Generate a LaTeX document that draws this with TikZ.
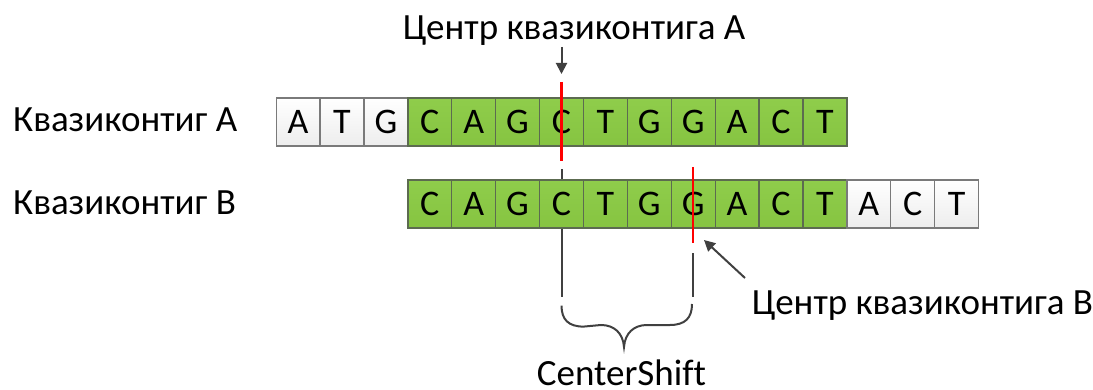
\documentclass[tikz,border=0pt]{standalone}
\usepackage{fontspec}
\setmainfont[Ligatures=NoCommon]{Carlito}
\usetikzlibrary{arrows.meta}
\definecolor{cellgreen}{HTML}{8FCD4B}
\definecolor{cellgreenlow}{HTML}{86C441}
\definecolor{greenedge}{HTML}{5C6B50}
\definecolor{whiteedge}{HTML}{7A7A7A}
\definecolor{lowgray}{HTML}{EDEDED}
\definecolor{darkline}{HTML}{404040}
\definecolor{centerred}{HTML}{FF0000}
\begin{document}
\begin{tikzpicture}[x=1pt,y=-1pt,
  base/.style={font=\fontsize{37}{41}\selectfont},
  cell/.style={font=\fontsize{36}{40}\selectfont, minimum width=43.9pt, minimum height=48pt,
    inner sep=0pt, anchor=north west, line width=1.3pt},
  gcell/.style={cell, draw=greenedge, top color=cellgreen, bottom color=cellgreenlow},
  wcell/.style={cell, draw=whiteedge, top color=white, bottom color=lowgray},
  label/.style={base, inner sep=0pt},
  redline/.style={draw=centerred, line width=2.2pt},
  grayline/.style={draw=darkline, line width=2pt},
  pointer/.style={draw=darkline, line width=2pt, -{Triangle[length=11pt,width=11pt]}}]
\useasboundingbox (0,0) rectangle (1093,390);

% sequence rows: cell width 43.9, row A starts at x=275.5, row B is shifted by three cells
\def\cw{43.9}
\foreach \l [count=\i] in {A,T,G,C,A,G,C,T,G,G,A,C,T}{
  \ifnum\i<4
    \node[wcell] (a\i) at ({275.5+(\i-1)*\cw},97.3) {\l};
  \else
    \node[gcell] (a\i) at ({275.5+(\i-1)*\cw},97.3) {\l};
  \fi
}
\foreach \l [count=\i] in {C,A,G,C,T,G,G,A,C,T,A,C,T}{
  \ifnum\i<11
    \node[gcell] (b\i) at ({275.5+(\i+2)*\cw},179.3) {\l};
  \else
    \node[wcell] (b\i) at ({275.5+(\i+2)*\cw},179.3) {\l};
  \fi
}

% guide lines above and below row B
\coordinate (gA1) at ([yshift=10pt]b4.north);
\coordinate (gA2) at ([yshift=-68pt]b4.south);
\coordinate (gB1) at ([yshift=-24.7pt]b7.south);
\coordinate (gB2) at ([yshift=-68.7pt]b7.south);
\draw[grayline] (gA1) -- (b4.north);
\draw[grayline] (b4.south) -- (gA2);
\draw[grayline] (gB1) -- (gB2);

% centre markers
\coordinate (rA1) at ([yshift=15.3pt]a7.north);
\coordinate (rA2) at ([yshift=-14.7pt]a7.south);
\coordinate (rB1) at ([yshift=12.3pt]b7.north);
\coordinate (rB2) at ([yshift=-14.7pt]b7.south);
\draw[redline] (rA1) -- (rA2);
\draw[redline] (rB1) -- (rB2);

% row labels
\node[label, anchor=base west] (labA) at (13,131.7) {Квазиконтиг A};
\node[label, anchor=base west] (labB) at (13,215) {Квазиконтиг B};

% centre captions with pointers
\node[label, anchor=base] (capA) at (574,40) {Центр квазиконтига A};
\coordinate (pA1) at (561.5,47);
\coordinate (pA2) at (561.5,74);
\draw[pointer] (pA1) -- (pA2);

\node[label, anchor=base west] (capB) at (751.7,315) {Центр квазиконтига B};
\coordinate (pB1) at (745,278);
\coordinate (pB2) at (704,240);
\draw[pointer] (pB1) -- (pB2);

% brace spanning the shift between the centres
\coordinate (brL) at (gA2);
\coordinate (brR) at (gB2);
\coordinate (brTip) at (624,347);
\draw[grayline] (brL) ++(0,9) .. controls +(0,14) and +(-15,0) .. ++(22,21) -- (601,325)
  .. controls (614,325) and (623,333) .. (brTip)
  .. controls (625,333) and (634,325) .. (647,325) -- (670,325)
  .. controls (685,325) and (692,318) .. (692,304);

\node[label, anchor=base] (shift) at (621.5,385.5) {CenterShift};
\end{tikzpicture}
\end{document}
